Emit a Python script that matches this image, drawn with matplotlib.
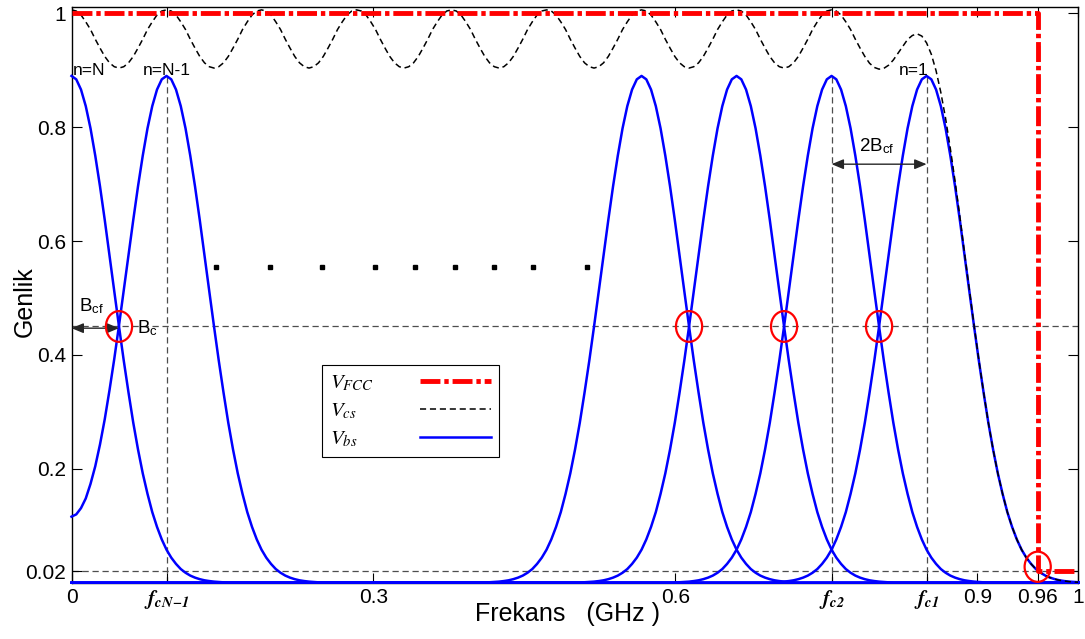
import numpy as np
import matplotlib.pyplot as plt
from matplotlib.patches import Ellipse

plt.rcParams['font.family'] = ['Liberation Sans', 'DejaVu Sans']
plt.rcParams['mathtext.fontset'] = 'stix'

STEP = 0.00472
bell_half = [0.890, 0.884, 0.866, 0.837, 0.798, 0.750, 0.696, 0.637, 0.574, 0.512,
             0.450, 0.390, 0.334, 0.281, 0.234, 0.192, 0.156, 0.124, 0.098, 0.076,
             0.058, 0.044, 0.033, 0.024, 0.0175, 0.0125, 0.0089, 0.0062, 0.0042, 0.0029,
             0.0019, 0.0013, 0.0008]
# channel centres in STEP units, n=N ... n=1
centre_steps = [0, 20, 40, 60, 80, 100, 120, 140, 160, 180]
shown = [0, 1, 6, 7, 8, 9]          # channels drawn in blue
marked = [(0, 1), (6, 7), (7, 8), (8, 9)]   # crossings circled

fcc_x = [0, 0.96, 0.96, 1.0]
fcc_y = [1.0, 1.0, 0.02, 0.02]
cut_x, cut_y = 0.96, 0.028

dots_x = [0.144, 0.197, 0.249, 0.302, 0.341, 0.381, 0.420, 0.459, 0.512]
dots_y = [0.555] * len(dots_x)

yticks = [0.02, 0.2, 0.4, 0.6, 0.8, 1]
yticklabels = ['0.02', '0.2', '0.4', '0.6', '0.8', '1']
xticks_plain = [0, 0.3, 0.6, 0.9, 0.96, 1]
xticklabels_plain = ['0', '0.3', '0.6', '0.9', '0.96', '1']
fc_labels = {1: r'$\mathbfit{f}_{\mathbfit{cN\!-\!1}}$', 8: r'$\mathbfit{f}_{\mathbfit{c2}}$',
             9: r'$\mathbfit{f}_{\mathbfit{c1}}$'}
legend_labels = [r'$V_{FCC}$', r'$V_{cs}$', r'$V_{bs}$']


def channel(m, bell, pad, n_grid):
    y = np.zeros(n_grid + 2 * pad)
    y[m:m + len(bell)] = bell
    if m > 0:
        # negative-frequency image folds back at f = 0
        y[pad + 1:2 * pad + 1] += y[pad - 1::-1]
        y[pad] *= 2
    return y[pad:pad + n_grid]


def main():
    bell = np.array(bell_half[:0:-1] + bell_half)
    pad = len(bell_half) - 1
    n_grid = 213
    x = np.arange(n_grid) * STEP
    centres = np.array(centre_steps) * STEP

    chans = [channel(m, bell, pad, n_grid) for m in centre_steps]
    envelope = np.sum(chans, axis=0)

    fig = plt.figure(figsize=(10.85, 6.39), dpi=100)
    ax = fig.add_axes([0.0659, 0.0881, 0.9276, 0.9009])

    # helper lines
    gl = dict(color='0.3', lw=0.9, linestyle=(0, (5, 3)), zorder=1)
    ax.plot([0, 1], [0.45, 0.45], **gl)
    ax.plot([0, 1], [0.02, 0.02], **gl)
    for k in fc_labels:
        ax.plot([centres[k], centres[k]], [0, bell_half[0]], **gl)

    for k in shown:
        h_bs, = ax.plot(x, chans[k], color='#0000ff', lw=1.8, zorder=3, clip_on=False)
    h_cs, = ax.plot(x, envelope, color='k', lw=1.1, linestyle=(0, (4, 2.5)), zorder=4)
    h_fcc, = ax.plot(fcc_x, fcc_y, color='#ff0000', lw=3.5, dashes=(4.1, 0.8, 0.9, 0.8), zorder=5)

    ax.plot(dots_x, dots_y, 's', color='k', ms=3.2, zorder=4)

    for a, b in marked:
        cx = (centres[a] + centres[b]) / 2
        ax.add_patch(Ellipse((cx, 0.45), 0.026, 0.054, fill=False, ec='#ff0000', lw=1.6, zorder=6))
    ax.add_patch(Ellipse((cut_x, cut_y), 0.026, 0.053, fill=False, ec='#ff0000', lw=1.6, zorder=6))

    # annotations
    ax.text(0.001, 0.90, 'n=N', fontsize=12.5, ha='left', va='center')
    ax.text(centres[1], 0.90, 'n=N-1', fontsize=12.5, ha='center', va='center')
    ax.text(0.837, 0.90, 'n=1', fontsize=12.5, ha='center', va='center')

    arr = dict(arrowstyle='<|-|>,head_length=0.6,head_width=0.25', color='0.15', lw=1,
               mutation_scale=12, shrinkA=0, shrinkB=0)
    ax.annotate('', xy=(centres[9], 0.735), xytext=(centres[8], 0.735), arrowprops=arr)
    ax.text(0.782, 0.757, r'2B$_{\mathregular{cf}}$', fontsize=13.5, ha='left', va='baseline')
    ax.annotate('', xy=(centres[1] / 2, 0.447), xytext=(0, 0.447), arrowprops=arr, annotation_clip=False)
    ax.text(0.0075, 0.476, r'B$_{\mathregular{cf}}$', fontsize=13.5, ha='left', va='baseline')
    ax.text(0.0648, 0.438, r'B$_{\mathregular{c}}$', fontsize=13.5, ha='left', va='baseline')

    # axes
    ax.set_xlim(0, 1)
    ax.set_ylim(0, 1.011)
    xt = xticks_plain + [centres[k] for k in fc_labels]
    xl = xticklabels_plain + list(fc_labels.values())
    ax.set_xticks(xt)
    ax.set_xticklabels(xl)
    ax.set_yticks(yticks)
    ax.set_yticklabels(yticklabels)
    ax.tick_params(direction='in', length=7, width=0.8, labelsize=15, top=True, right=True, pad=4)
    for s in ax.spines.values():
        s.set_linewidth(1.0)

    ax.set_xlabel('Frekans   (GHz )', fontsize=18, va='top')
    ax.xaxis.set_label_coords(0.493, -0.033)
    ax.set_ylabel('Genlik', fontsize=18)
    ax.yaxis.set_label_coords(-0.035, 0.489)

    leg = ax.legend([h_fcc, h_cs, h_bs], legend_labels,
                    loc='upper left', bbox_to_anchor=(0.249, 0.3826), bbox_transform=ax.transData,
                    markerfirst=False, fancybox=False, edgecolor='k', framealpha=1,
                    fontsize=15, handlelength=3.4, handletextpad=2.2, labelspacing=0.4,
                    borderpad=0.4, borderaxespad=0)
    leg.get_frame().set_linewidth(0.8)

    # labels left-aligned, handles kept in one column
    fig.canvas.draw()
    r = fig.canvas.get_renderer()
    widths = [t.get_window_extent(r).width for t in leg.get_texts()]
    col = leg._legend_handle_box.get_children()[0]
    col.align = 'left'
    for item, w in zip(col.get_children(), widths):
        item.sep += (max(widths) - w) * 72 / fig.dpi

    fig.savefig('out.png', dpi=100)


if __name__ == "__main__":
    main()
